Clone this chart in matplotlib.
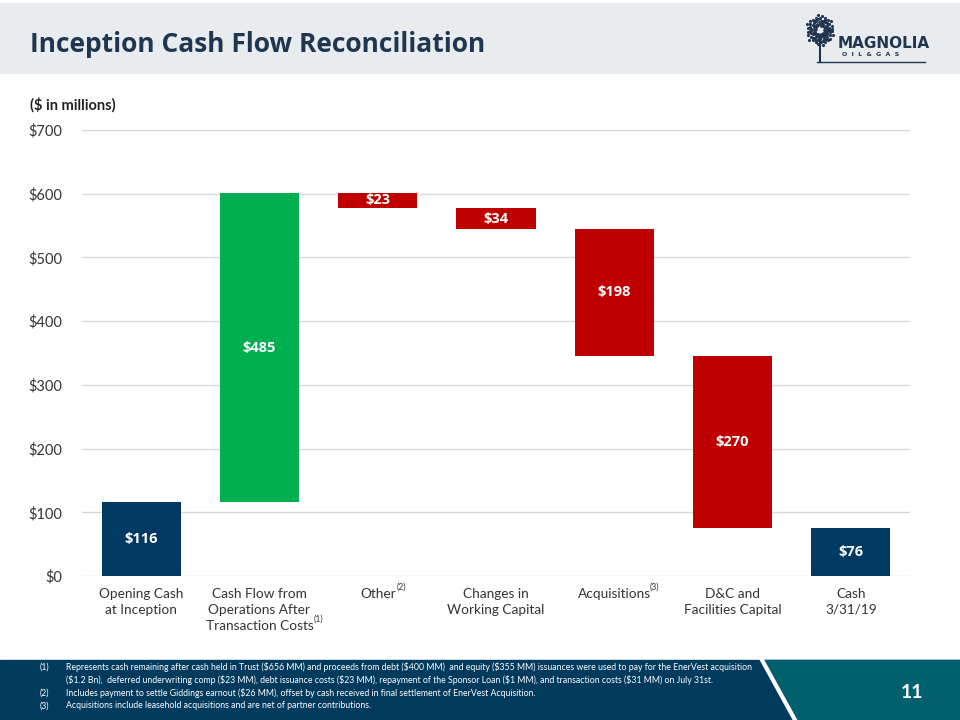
import numpy as np
import matplotlib.pyplot as plt
from matplotlib.patches import Rectangle, Polygon

plt.rcParams['font.family'] = ['Lato', 'DejaVu Sans']

categories = ['Opening Cash\nat Inception', 'Cash Flow from\nOperations After\nTransaction Costs',
              'Other', 'Changes in\nWorking Capital', 'Acquisitions',
              'D&C and\nFacilities Capital', 'Cash\n3/31/19']
changes = [116, 485, -23, -34, -198, -270, 76]
kinds = ['total', 'up', 'down', 'down', 'down', 'down', 'total']
value_labels = ['$116', '$485', '$23', '$34', '$198', '$270', '$76']
yticks = [0, 100, 200, 300, 400, 500, 600, 700]
footnotes = [
    ('(1)', 'Represents cash remaining after cash held in Trust ($656 MM) and proceeds from debt ($400 MM)  and equity ($355 MM) issuances were used to pay for the EnerVest acquisition'),
    ('', '($1.2 Bn),  deferred underwriting comp ($23 MM), debt issuance costs ($23 MM), repayment of the Sponsor Loan ($1 MM), and transaction costs ($31 MM) on July 31st.'),
    ('(2)', 'Includes payment to settle Giddings earnout ($26 MM), offset by cash received in final settlement of EnerVest Acquisition.'),
    ('(3)', 'Acquisitions include leasehold acquisitions and are net of partner contributions.'),
]

navy = '#003A63'
green = '#00B050'
red = '#C00000'
title_col = '#1F3550'

W, H = 960, 720
fig = plt.figure(figsize=(9.6, 7.2), dpi=100)

def fx(px):
    return px / W

def fy(py):
    return 1 - py / H

# header band
fig.patches.append(Rectangle((0, fy(73)), 1, 70 / H, transform=fig.transFigure,
                             color='#E8ECEE', zorder=0))
fig.text(fx(30), fy(45), 'Inception Cash Flow Reconciliation', fontsize=19, fontweight='bold',
         color=title_col, va='center', ha='left', family='Open Sans')

# logo
fig.text(fx(838), fy(44), 'MAGNOLIA', fontsize=11, fontweight='bold', color=title_col,
         family='DejaVu Sans', va='center', ha='left')
fig.text(fx(842), fy(55), 'O  I  L  &  G  A  S', fontsize=4.5, fontweight='bold', color=title_col,
         family='DejaVu Sans', va='center', ha='left')
fig.lines.append(plt.Line2D([fx(817), fx(925)], [fy(62), fy(62)], transform=fig.transFigure,
                            color=title_col, lw=1))
fig.lines.append(plt.Line2D([fx(820), fx(820)], [fy(62), fy(35)], transform=fig.transFigure,
                            color=title_col, lw=1.5))
ang = np.linspace(0, 2 * np.pi, 60)
rr = np.array([9, 12, 10, 14, 11, 8, 13, 9, 12, 10] * 6) * 1.1
fig.lines.append(plt.Line2D(fx(820 + rr * np.cos(ang) * 0.9), fy(30 + rr * np.sin(ang)),
                            transform=fig.transFigure, color=title_col, lw=0, marker='.', ms=2.5))
rr2 = rr * 0.5
fig.lines.append(plt.Line2D(fx(820 + rr2 * np.cos(ang * 1.3)), fy(30 + rr2 * np.sin(ang * 1.3)),
                            transform=fig.transFigure, color=title_col, lw=0, marker='.', ms=2))

# chart
ax = fig.add_axes([fx(82), fy(576), fx(910) - fx(82), (576 - 130) / H])
x = np.arange(len(categories))
running = 0
for i, (c, k) in enumerate(zip(changes, kinds)):
    if k == 'total':
        bottom, height, col = 0, c, navy
        running = c
    elif k == 'up':
        bottom, height, col = running, c, green
        running += c
    else:
        bottom, height, col = running + c, -c, red
        running += c
    ax.bar(x[i], height, bottom=bottom, width=0.67, color=col, zorder=3)
    ax.text(x[i], bottom + height / 2, value_labels[i], color='white', fontsize=10.5,
            fontweight='bold', ha='center', va='center', zorder=4, family='Open Sans')

ax.set_xlim(-0.5, 6.5)
ax.set_ylim(0, 700)
ax.set_yticks(yticks)
ax.set_yticklabels(['$%d' % v for v in yticks], fontsize=10.5, color='#333333')
ax.set_xticks(x)
ax.set_xticklabels(categories, fontsize=9.8, color='#333333', va='top', linespacing=1.35)
ax.tick_params(length=0, pad=9)
ax.tick_params(axis='y', pad=14)
ax.grid(axis='y', color='#D9D9D9', lw=1, zorder=0)
for s in ax.spines.values():
    s.set_visible(False)

fig.text(fx(30), fy(105), '($ in millions)', fontsize=10.5, fontweight='bold', color='#222222',
         va='center')

# superscripts
for px, py, s in [(314, 619, '(1)'), (397, 587, '(2)'), (650, 587, '(3)')]:
    fig.text(fx(px), fy(py), s, fontsize=6.3, color='#333333', va='center')

# footer
fig.patches.append(Rectangle((0, 0), 1, 60 / H, transform=fig.transFigure, color='#003A5D', zorder=0))
fig.patches.append(Polygon([(fx(762), fy(660)), (fx(960), fy(660)), (fx(960), fy(720)), (fx(795), fy(720))],
                           closed=True, transform=fig.transFigure, color='#00606E', zorder=1))
fig.lines.append(plt.Line2D([fx(762), fx(795)], [fy(660), fy(720)], transform=fig.transFigure,
                            color='white', lw=3, zorder=2))
fig.text(fx(912), fy(693), '11', fontsize=14, fontweight='bold', color='white', ha='center', va='center')
for i, (num, txt) in enumerate(footnotes):
    yy = fy(667 + 13 * i)
    if num:
        fig.text(fx(40), yy, num, fontsize=6.3, color='white', va='center')
    fig.text(fx(66), yy, txt, fontsize=6.3, color='white', va='center')

fig.savefig('out.png', dpi=100)
